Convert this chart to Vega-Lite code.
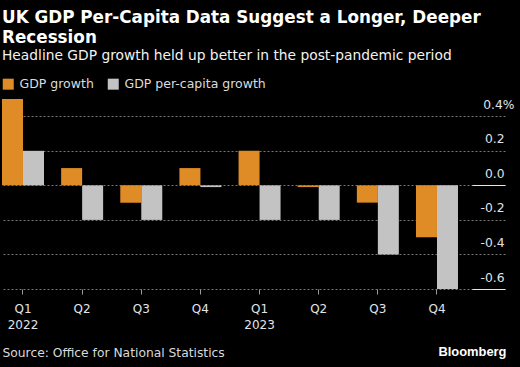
{
  "$schema": "https://vega.github.io/schema/vega-lite/v6.json",
  "autosize": {"type": "fit", "contains": "padding"},
  "width": 520,
  "height": 367,
  "padding": {"left": 2, "top": 10, "right": 6, "bottom": 8},
  "background": "#000000",
  "title": {
    "text": "UK GDP Per-Capita Data Suggest a Longer, Deeper",
    "subtitle": "Recession",
    "anchor": "start",
    "baseline": "top",
    "font": "DejaVu Sans",
    "fontSize": 16.8,
    "fontWeight": "bold",
    "color": "#ffffff",
    "subtitleFont": "DejaVu Sans",
    "subtitleFontSize": 16.8,
    "subtitleFontWeight": "bold",
    "subtitleColor": "#ffffff",
    "subtitlePadding": 3,
    "offset": 2
  },
  "data": {
    "values": [
      {"period": "Q1 2022", "series": "GDP growth", "value": 0.5},
      {"period": "Q1 2022", "series": "GDP per-capita growth", "value": 0.2},
      {"period": "Q2 2022", "series": "GDP growth", "value": 0.1},
      {"period": "Q2 2022", "series": "GDP per-capita growth", "value": -0.2},
      {"period": "Q3 2022", "series": "GDP growth", "value": -0.1},
      {"period": "Q3 2022", "series": "GDP per-capita growth", "value": -0.2},
      {"period": "Q4 2022", "series": "GDP growth", "value": 0.1},
      {"period": "Q4 2022", "series": "GDP per-capita growth", "value": -0.01},
      {"period": "Q1 2023", "series": "GDP growth", "value": 0.2},
      {"period": "Q1 2023", "series": "GDP per-capita growth", "value": -0.2},
      {"period": "Q2 2023", "series": "GDP growth", "value": -0.01},
      {"period": "Q2 2023", "series": "GDP per-capita growth", "value": -0.2},
      {"period": "Q3 2023", "series": "GDP growth", "value": -0.1},
      {"period": "Q3 2023", "series": "GDP per-capita growth", "value": -0.4},
      {"period": "Q4 2023", "series": "GDP growth", "value": -0.3},
      {"period": "Q4 2023", "series": "GDP per-capita growth", "value": -0.6}
    ]
  },
  "mark": {"type": "bar"},
  "encoding": {
    "x": {
      "field": "period",
      "type": "nominal",
      "sort": null,
      "scale": {"paddingInner": 0.29, "paddingOuter": 0.3975, "align": 0},
      "axis": {
        "title": "Source: Office for National Statistics",
        "titleAnchor": "start",
        "titleAlign": "left",
        "titleBaseline": "top",
        "titleFont": "DejaVu Sans",
        "titleFontSize": 12.3,
        "titleFontWeight": "normal",
        "titleColor": "#d9d9d9",
        "titlePadding": 16,
        "labelAngle": 0,
        "labelExpr": "substring(datum.label,0,2) == 'Q1' ? [substring(datum.label,0,2), substring(datum.label,3)] : substring(datum.label,0,2)",
        "labelFont": "DejaVu Sans",
        "labelFontSize": 12,
        "labelLineHeight": 16,
        "labelBaseline": "top",
        "labelColor": "#e0e4ea",
        "labelPadding": 9,
        "domain": false,
        "ticks": true,
        "tickSize": 5,
        "tickColor": "#9a9a9a",
        "grid": false
      }
    },
    "xOffset": {
      "field": "series",
      "type": "nominal",
      "scale": {"paddingInner": 0, "paddingOuter": 0}
    },
    "y": {
      "field": "value",
      "type": "quantitative",
      "scale": {"domain": [-0.6, 0.5], "nice": false, "zero": false},
      "axis": {
        "orient": "right",
        "title": "Bloomberg",
        "titleAngle": 0,
        "titleAlign": "right",
        "titleBaseline": "alphabetic",
        "titleX": 1,
        "titleY": 256,
        "titleFont": "Liberation Sans",
        "titleFontSize": 12.9,
        "titleFontWeight": "bold",
        "titleColor": "#ffffff",
        "values": [-0.6, -0.4, -0.2, 0, 0.2, 0.4],
        "labelExpr": "datum.value == 0.4 ? '0.4%' : replace(format(datum.value, '.1f'), '\u2212', '-')",
        "labelAlign": "right",
        "labelBaseline": "alphabetic",
        "labelOffset": -8,
        "labelPadding": {"condition": {"test": "datum.value == 0.4", "value": 42}, "value": 32},
        "labelFont": "DejaVu Sans",
        "labelFontSize": 12.3,
        "labelColor": "#e0e4ea",
        "domain": false,
        "ticks": true,
        "tickSize": -33,
        "tickColor": {"condition": {"test": "datum.value == 0 || datum.value == -0.6", "value": "#e6e6e6"}, "value": "transparent"},
        "grid": true,
        "gridColor": "#777777",
        "gridDash": [2, 2],
        "gridWidth": 1
      }
    },
    "color": {
      "field": "series",
      "type": "nominal",
      "scale": {"domain": ["GDP growth", "GDP per-capita growth"], "range": ["#e08c26", "#c3c3c3"]},
      "legend": {
        "orient": "top",
        "direction": "horizontal",
        "title": "Headline GDP growth held up better in the post-pandemic period",
        "titleOrient": "top",
        "titleAnchor": "start",
        "titleAlign": "left",
        "titleBaseline": "top",
        "titleFont": "DejaVu Sans",
        "titleFontSize": 13.8,
        "titleFontWeight": "normal",
        "titleColor": "#f2f2f2",
        "titleLimit": 600,
        "titlePadding": 15,
        "symbolType": "square",
        "symbolSize": 121,
        "symbolStrokeWidth": 0,
        "labelFont": "DejaVu Sans",
        "labelFontSize": 12.5,
        "labelColor": "#dcdcdc",
        "labelOffset": 5,
        "columnPadding": 13,
        "offset": 8,
        "padding": 0
      }
    }
  },
  "config": {
    "view": {"stroke": null}
  }
}
